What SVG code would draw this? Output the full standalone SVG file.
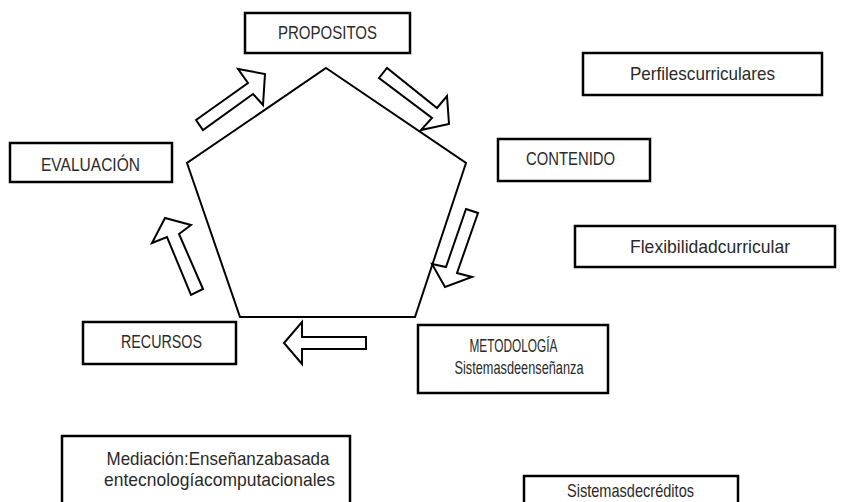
<svg xmlns="http://www.w3.org/2000/svg" width="841" height="502" viewBox="0 0 841 502">
<style>
.box{fill:#fff;stroke:#000;stroke-width:2.5}
.t{font-family:"Liberation Sans",Arial,sans-serif;font-size:19px;fill:#2a2a2a;text-anchor:middle}
.arr{fill:#fff;stroke:#000;stroke-width:2;stroke-linejoin:miter}
.pent{fill:none;stroke:#000;stroke-width:2}
</style>
<rect width="841" height="502" fill="#fff"/>
<g id="pentagon"><polygon class="pent" points="326,68 466,163 415,317 240,317 187,163"/></g>
<g id="connectors">
<polygon class="arr" points="196,120 248,83 238,69 265,74 263,105 253,94 203,130"/>
<polygon class="arr" points="379,78 387,68 437,108 447,96 449,124 421,130 432,118"/>
<polygon class="arr" points="466,209 478,213 457,273 472,277 445,287 432,264 446,267"/>
<polygon class="arr" points="366,337 302,337 302,322 284,343 302,364 302,349 366,349"/>
<polygon class="arr" points="203,289 179,234 191,225 165,218 152,243 167,237 191,295"/>
</g>
<g id="propositos"><rect class="box" x="245" y="13" width="165" height="40"/><text class="t" x="327.5" y="39" textLength="99" lengthAdjust="spacingAndGlyphs">PROPOSITOS</text></g>
<g id="perfiles"><rect class="box" x="583" y="53" width="239" height="42"/><text class="t" x="702.5" y="80" textLength="145" lengthAdjust="spacingAndGlyphs">Perfilescurriculares</text></g>
<g id="contenido"><rect class="box" x="498" y="139" width="152" height="42"/><text class="t" x="570.5" y="165" textLength="89" lengthAdjust="spacingAndGlyphs">CONTENIDO</text></g>
<g id="flexibilidad"><rect class="box" x="575" y="226" width="260" height="41"/><text class="t" x="710" y="253" textLength="160" lengthAdjust="spacingAndGlyphs">Flexibilidadcurricular</text></g>
<g id="evaluacion"><rect class="box" x="10" y="143" width="162" height="39"/><text class="t" x="90.5" y="171" textLength="99" lengthAdjust="spacingAndGlyphs">EVALUACIÓN</text></g>
<g id="recursos"><rect class="box" x="83" y="322" width="153" height="42"/><text class="t" x="161.5" y="348" textLength="81" lengthAdjust="spacingAndGlyphs">RECURSOS</text></g>
<g id="metodologia"><rect class="box" x="418" y="325" width="190" height="68"/><text class="t" x="513.5" y="352" textLength="88" lengthAdjust="spacingAndGlyphs">METODOLOGÍA</text><text class="t" x="519" y="374" textLength="129" lengthAdjust="spacingAndGlyphs">Sistemasdeenseñanza</text></g>
<g id="mediacion"><rect class="box" x="62" y="436" width="288" height="80"/><text class="t" x="218" y="465" textLength="223" lengthAdjust="spacingAndGlyphs">Mediación:Enseñanzabasada</text><text class="t" x="219.5" y="486" textLength="231" lengthAdjust="spacingAndGlyphs">entecnologíacomputacionales</text></g>
<g id="creditos"><rect class="box" x="524" y="476" width="214" height="38"/><text class="t" x="630.5" y="497" textLength="127" lengthAdjust="spacingAndGlyphs">Sistemasdecréditos</text></g>
</svg>
